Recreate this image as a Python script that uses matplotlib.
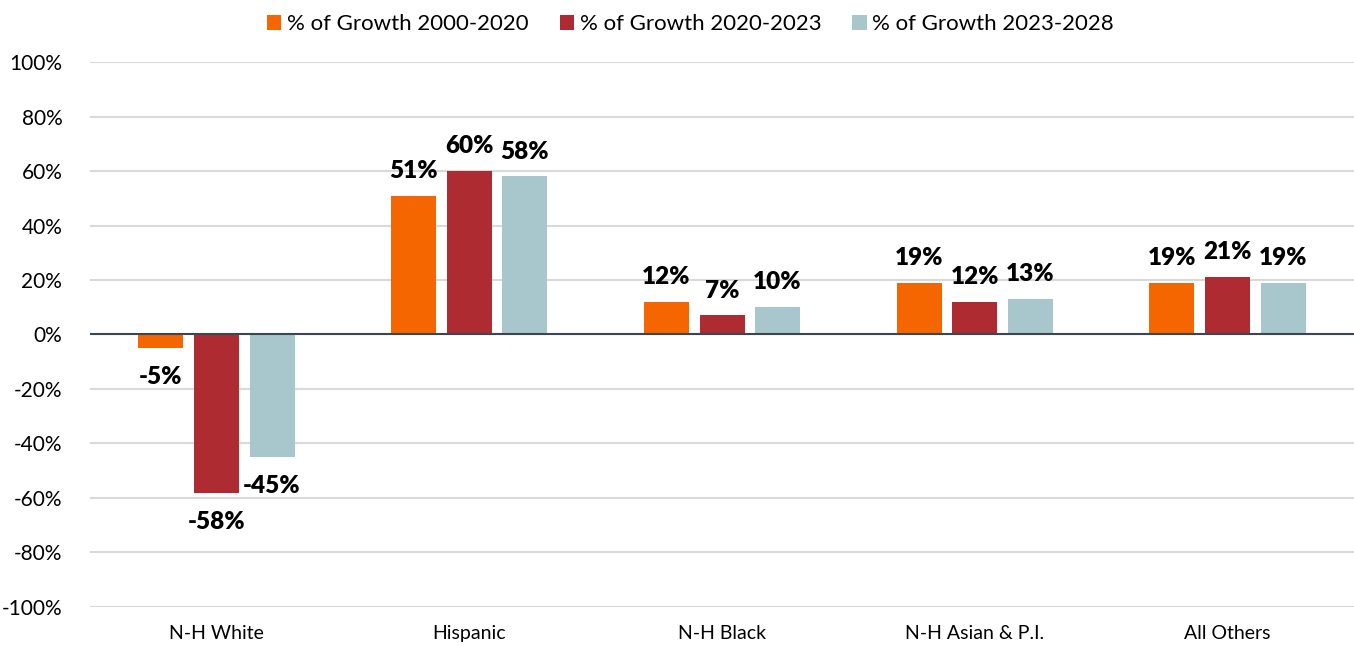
import matplotlib.pyplot as plt
import numpy as np

categories = ["N-H White", "Hispanic", "N-H Black", "N-H Asian & P.I.", "All Others"]
series_names = ["% of Growth 2000-2020", "% of Growth 2020-2023", "% of Growth 2023-2028"]
growth_2000_2020 = [-5, 51, 12, 19, 19]
growth_2020_2023 = [-58, 60, 7, 12, 21]
growth_2023_2028 = [-45, 58, 10, 13, 19]
colors = ["#F56600", "#AE2B31", "#A7C7CC"]

plt.rcParams['font.family'] = ['Lato', 'DejaVu Sans']

fig = plt.figure(figsize=(13.54, 6.46), dpi=100)
ax = fig.add_axes([0.0665, 0.0604, 0.9335, 0.8436])

x = np.arange(len(categories))
width = 0.178
offsets = [-0.22, 0, 0.22]
all_series = [growth_2000_2020, growth_2020_2023, growth_2023_2028]

for vals, off, col, name in zip(all_series, offsets, colors, series_names):
    bars = ax.bar(x + off, vals, width, color=col, label=name, zorder=3)
    for b, v in zip(bars, vals):
        if v >= 0:
            ax.annotate(f"{v}%", (b.get_x() + b.get_width() / 2, v),
                        xytext=(0, 10), textcoords="offset points",
                        ha="center", va="bottom", fontsize=17.5, fontweight="heavy")
        else:
            ax.annotate(f"{v}%", (b.get_x() + b.get_width() / 2, v),
                        xytext=(0, -13), textcoords="offset points",
                        ha="center", va="top", fontsize=17.5, fontweight="heavy")

ax.set_xlim(-0.5, len(categories) - 0.5)
ax.set_ylim(-100, 100)
ax.set_yticks(range(-100, 101, 20))
ax.set_yticklabels([f"{t}%" for t in range(-100, 101, 20)], fontsize=15)
ax.set_xticks(x)
ax.set_xticklabels(categories, fontsize=14)
ax.tick_params(axis="both", length=0)
ax.tick_params(axis="x", pad=13)
ax.tick_params(axis="y", pad=20)
ax.grid(axis="y", color="#d9d9d9", linewidth=1.5, zorder=0)
ax.axhline(0, color="#3a4650", linewidth=1.5, zorder=4)
for s in ax.spines.values():
    s.set_visible(False)

ax.legend(loc="center", bbox_to_anchor=(0.475, 1.069), ncol=3, frameon=False,
          fontsize=16, handlelength=0.65, handleheight=0.65, handletextpad=0.25,
          columnspacing=1.4)

fig.savefig("out.png", dpi=100)
